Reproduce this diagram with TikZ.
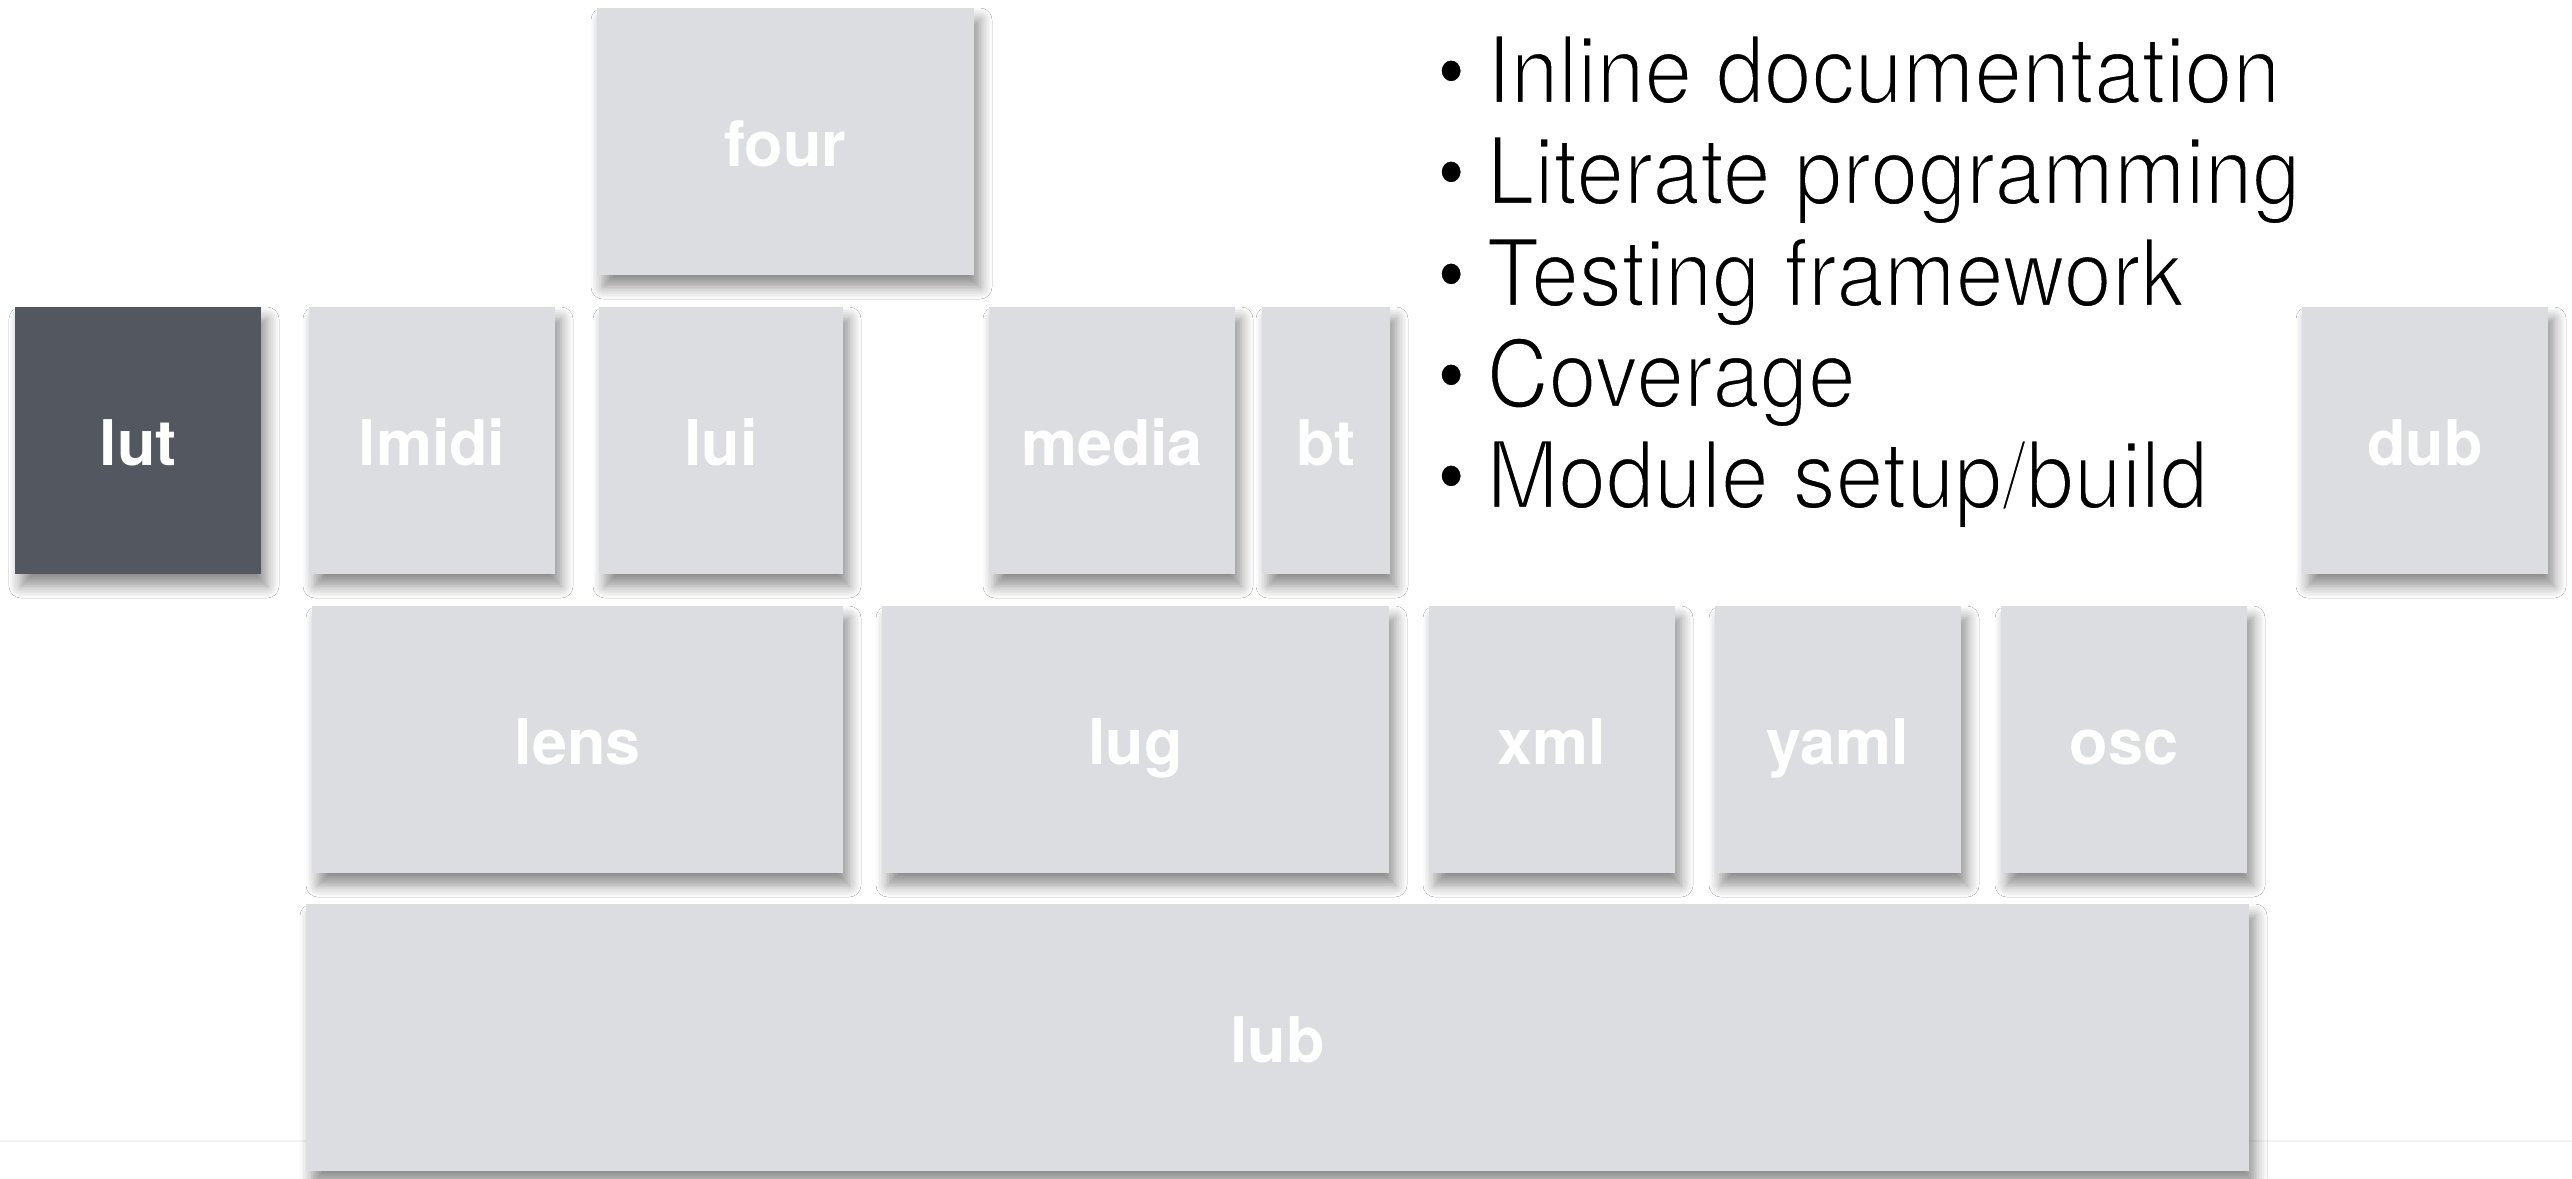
\documentclass[tikz,border=0pt]{standalone}
\usepackage{fontspec}
\setmainfont{TeX Gyre Heros}
\newfontfamily\listfont[FakeStretch=0.923]{TeX Gyre Heros}
\usetikzlibrary{shadows.blur}

\definecolor{tilegray}{RGB}{220,221,224}
\definecolor{tiledark}{RGB}{83,87,95}
\definecolor{rulegray}{RGB}{243,243,244}

% light face: fill the glyphs, then trim their edges with a thin white stroke
\newcommand\lightface{\special{pdf:literal direct 2 Tr 0.7 w 1 1 1 RG}}

\begin{document}
\begin{tikzpicture}[x=0.01cm, y=-0.01cm,
  wh/.style 2 args={minimum width={#1*0.01cm}, minimum height={#2*0.01cm}},
  tile/.style={fill=tilegray, inner sep=0pt, outer sep=0pt, anchor=north west,
    text=white, font=\fontsize{17.9pt}{20pt}\selectfont\bfseries,
    text height=1.4em, text depth=0pt,
    blur shadow={shadow xshift=0.06cm, shadow yshift=-0.12cm,
      shadow blur radius=0.12cm, shadow opacity=45, shadow blur steps=8}},
  darktile/.style={tile, fill=tiledark},
  item/.style={anchor=base west, inner sep=0pt,
    font=\listfont\fontsize{26.5pt}{28pt}\selectfont\lightface}]

  % canvas
  \useasboundingbox (0,0) rectangle (2572,1178);
  \fill[white] (0,0) rectangle (2572,1178);

  % faint footer rule
  \coordinate (ruleL) at (0,1141);
  \coordinate (ruleR) at (2572,1141);
  \draw[rulegray, line width=0.6pt] (ruleL) -- (ruleR);

  % top
  \node[tile, wh={377}{267}] (four) at (597,8) {four};

  % first row
  \node[darktile, wh={246}{267}] (lut)   at (15,307)   {lut};
  \node[tile, wh={246}{267}]     (lmidi) at (309,307)  {lmidi};
  \node[tile, wh={244}{267}]     (lui)   at (599,307)  {lui};
  \node[tile, wh={246}{267}]     (media) at (989,307)  {media};
  \node[tile, wh={128}{267}]     (bt)    at (1262,307) {bt};
  \node[tile, wh={246}{267}]     (dub)   at (2302,307) {dub};

  % second row
  \node[tile, wh={531}{267}] (lens) at (312,606)  {lens};
  \node[tile, wh={507}{267}] (lug)  at (882,606)  {lug};
  \node[tile, wh={246}{267}] (xml)  at (1429,606) {xml};
  \node[tile, wh={246}{267}] (yaml) at (1715,606) {yaml};
  \node[tile, wh={246}{267}] (osc)  at (2001,606) {osc};

  % base
  \node[tile, wh={1943}{267}] (lub) at (306,904) {lub};

  % feature list
  \node[item] (i1) at (1486,103) {\llap{\textbullet\hspace{0.22em}}Inline documentation};
  \node[item] (i2) at (1486,204) {\llap{\textbullet\hspace{0.22em}}Literate programming};
  \node[item] (i3) at (1486,306) {\llap{\textbullet\hspace{0.22em}}Testing framework};
  \node[item] (i4) at (1486,407) {\llap{\textbullet\hspace{0.22em}}Coverage};
  \node[item] (i5) at (1486,508) {\llap{\textbullet\hspace{0.22em}}Module setup/build};
\end{tikzpicture}
\end{document}
